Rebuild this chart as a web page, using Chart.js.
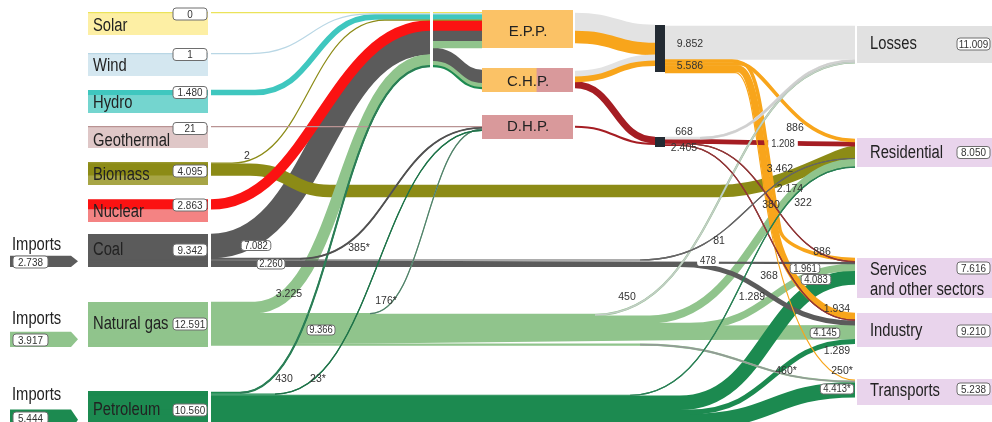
<!DOCTYPE html>
<html>
<head>
<meta charset="utf-8">
<script src="https://cdn.jsdelivr.net/npm/chart.js@4.4.1/dist/chart.umd.min.js"></script>
<style>
  html, body { margin: 0; padding: 0; background: #fff; }
</style>
</head>
<body>
<canvas id="flows" width="992" height="422"></canvas>
<script>
// energy values (thousands separator is "." in the labels)
var sources = ['Solar', 'Wind', 'Hydro', 'Geothermal', 'Biomass', 'Nuclear', 'Coal', 'Natural gas', 'Petroleum'];
var sourceValues = [0, 1, 1480, 21, 4095, 2863, 9342, 12591, 10560];
var importOf = ['Coal', 'Natural gas', 'Petroleum'];
var importValues = [2738, 3917, 5444];
var plants = ['E.P.P.', 'C.H.P.', 'D.H.P.'];
var hubs = ['Electricity', 'Heat'];
var hubValues = [5586, 2405];
var sinks = ['Losses', 'Residential', 'Services', 'Industry', 'Transports'];
var sinkSub = ['', '', 'and other sectors', '', ''];
var sinkValues = [11009, 8050, 7616, 9210, 5238];
var directOf = ['Coal', 'Natural gas'];
var directValues = [2260, 9366];

// flows: from, to, carrier, value, estimated (*)
var linkFrom = ['Solar', 'Wind', 'Hydro', 'Biomass', 'Nuclear', 'Coal', 'Natural gas', 'Petroleum',
  'PP', 'PP', 'PP', 'PP', 'PP', 'PP', 'PP', 'PP', 'PP', 'PP',
  'Geothermal', 'Coal', 'Natural gas', 'Petroleum',
  'E.P.P.', 'E.P.P.', 'C.H.P.', 'C.H.P.', 'C.H.P.', 'D.H.P.',
  'Electricity', 'Electricity', 'Electricity', 'Electricity', 'Electricity',
  'Heat', 'Heat', 'Heat', 'Heat',
  'Biomass', 'Coal', 'Coal', 'Coal',
  'Natural gas', 'Natural gas', 'Natural gas', 'Natural gas', 'Natural gas',
  'Petroleum', 'Petroleum', 'Petroleum', 'Petroleum'];
var linkTo = ['PP', 'PP', 'PP', 'PP', 'PP', 'PP', 'PP', 'PP',
  'E.P.P.', 'E.P.P.', 'E.P.P.', 'E.P.P.', 'E.P.P.', 'E.P.P.', 'E.P.P.', 'C.H.P.', 'C.H.P.', 'C.H.P.',
  'D.H.P.', 'D.H.P.', 'D.H.P.', 'D.H.P.',
  'Electricity', 'Electricity', 'Electricity', 'Electricity', 'Heat', 'Heat',
  'Losses', 'Residential', 'Services', 'Industry', 'Transports',
  'Losses', 'Residential', 'Services', 'Industry',
  'Residential', 'Residential', 'Services', 'Industry',
  'Losses', 'Residential', 'Services', 'Industry', 'Transports',
  'Residential', 'Services', 'Industry', 'Transports'];
var linkCarrier = ['solar', 'wind', 'hydro', 'bio', 'nuclear', 'coal', 'gas', 'oil',
  'solar', 'wind', 'hydro', 'bio', 'nuclear', 'coal', 'gas', 'coal', 'gas', 'oil',
  'geo', 'coal', 'gas', 'oil',
  'loss', 'elec', 'loss', 'elec', 'heat', 'heat',
  'loss', 'elec', 'elec', 'elec', 'elec',
  'loss', 'heat', 'heat', 'heat',
  'bio', 'coal', 'coal', 'coal',
  'gas', 'gas', 'gas', 'gas', 'gas',
  'oil', 'oil', 'oil', 'oil'];
var linkValues = [0, 1, 1480, 2, 2863, 7082, 3225, 430,
  0, 1, 1480, 2, 2863, 3200, 2000, 3882, 1225, 430,
  21, 385, 176, 23,
  5300, 3500, 1700, 1500, 1800, 450,
  9852, 886, 886, 1934, 250,
  668, 1208, 380, 368,
  3462, 81, 478, 1289,
  450, 2174, 1961, 4145, 460,
  322, 4083, 1289, 4413];
var linkEstimated = [0, 0, 0, 0, 0, 0, 0, 0,
  0, 0, 0, 0, 0, 0, 0, 0, 0, 0,
  0, 1, 1, 1,
  0, 0, 0, 0, 0, 0,
  0, 0, 0, 0, 1,
  0, 0, 0, 0,
  0, 0, 0, 0,
  0, 0, 0, 0, 1,
  0, 0, 0, 1];

// ---- look ----
var K = 3.4 / 1000;
var colors = { solar: '#ebe35a', wind: '#b9d7e5', hydro: '#3fc7bf', geo: '#b99393', bio: '#8c8b16',
  nuclear: '#fb1212', coal: '#5b5b5b', gas: '#90c48c', oil: '#1c8a50', loss: '#e3e3e3',
  elec: '#f8a51b', heat: '#a51d23' };
var thinColor = { 7: '#2f7a58', 19: '#505050', 20: '#4f7d6d', 21: '#1f6f48', 33: '#d0d0d0',
  38: '#666666', 41: '#c5ccc9', 45: '#939b97', 46: '#2b7d55', 35: '#8b3a3a', 36: '#8b3a3a' };

// box [x0, x1, y0, y1], stack starts, fill, value tag y, name baseline
var layout = {
  'Solar': { box: [88, 208, 12, 35], out: 12, fill: '#fdefa4', vb: 14, ty: 31 },
  'Wind': { box: [88, 208, 53, 76], out: 53, fill: '#d4e7f0', vb: 54.5, ty: 71 },
  'Hydro': { box: [88, 208, 90, 113], out: 90, fill: '#74d5cf', vb: 92.5, ty: 108 },
  'Geothermal': { box: [88, 208, 126, 148], out: 126, fill: '#dfc7c7', vb: 128.5, ty: 146 },
  'Biomass': { box: [88, 208, 162, 185], out: 162.5, fill: '#a7a545', vb: 171, ty: 180 },
  'Nuclear': { box: [88, 208, 199, 222], out: 199.5, fill: '#f48383', vb: 205, ty: 217 },
  'Coal': { box: [88, 208, 234, 267], out: 234, fill: '#5b5b5b', vb: 250, ty: 255 },
  'Natural gas': { box: [88, 208, 302, 347], out: 302, fill: '#90c48c', vb: 324, ty: 329 },
  'Petroleum': { box: [88, 208, 391, 430], out: 392, fill: '#1c8a50', vb: 410, ty: 415 },
  'PP': { box: [430, 433, 12, 70], inn: 12, out: 12 },
  'E.P.P.': { box: [482, 573, 10, 48], inn: 12, out: 13, fill: '#fbc266', ty: 36 },
  'C.H.P.': { box: [482, 573, 68, 92], inn: 70, out: 71, fill: '#fbc266', fill2: '#d9999b', ty: 86 },
  'D.H.P.': { box: [482, 573, 115, 139], inn: 126, out: 126, fill: '#d9999b', ty: 131 },
  'Electricity': { box: [655, 665, 25, 72], inn: 25, out: 26 },
  'Heat': { box: [655, 665, 137, 147], inn: 137, out: 137 },
  'Losses': { box: [857, 992, 26, 63], inn: 26, fill: '#e1e1e1', vb: 44, ty: 49 },
  'Residential': { box: [857, 992, 138, 167], inn: 139, fill: '#e9d4ec', vb: 152.5, ty: 158 },
  'Services': { box: [857, 992, 258, 298], inn: 258, fill: '#e9d4ec', vb: 268, ty: 275 },
  'Industry': { box: [857, 992, 313, 347], inn: 313, fill: '#e9d4ec', vb: 331, ty: 336 },
  'Transports': { box: [857, 992, 379, 405], inn: 379.5, fill: '#e9d4ec', vb: 389, ty: 396 }
};
var gapOut = { 'Solar': 3, 'Wind': 3, 'Hydro': 3, 'Geothermal': 3, 'Biomass': 3, 'Nuclear': 3,
  'Coal': 3, 'Natural gas': 3, 'Petroleum': 3, 'E.P.P.': 2, 'C.H.P.': 2, 'D.H.P.': 2 };
var gapIn = { 'Losses': 2, 'Residential': 2, 'Services': 2, 'Industry': 2, 'Transports': 2 };

// waypoints [x, y('s'|'t'|lane), a, b, tangentX, tangentY]
var trunk = [0.19, 0.98];
var routes = {
  1: { via: [[250, 's'], [370, 't']] },
  2: { via: [[255, 's'], [375, 't']] },
  3: { via: [[232, 's'], [385, 't']] },
  4: { c: [0.45, 0.45] },
  6: { via: [[255, 's']] },
  7: { via: [[240, 's']] },
  19: { via: [[300, 's']] },
  20: { via: [[370, 's']] },
  21: { via: [[275, 's']] },
  29: { via: [[732, 's']], c: [0.3, 0.55] },
  30: { via: [[742, 's'], [780, 230, 0.5, 0.5, trunk[0], trunk[1]]], c: [0.5, 0.5] },
  31: { via: [[738, 's'], [775, 230, 0.5, 0.5, trunk[0], trunk[1]]], c: [0.5, 0.5] },
  32: { via: [[735, 's'], [771, 230, 0.5, 0.5, trunk[0], trunk[1]]], c: [0.55, 0.45] },
  33: { via: [[700, 's']] },
  35: { via: [[690, 's']] },
  36: { via: [[680, 's']] },
  37: { via: [[250, 's'], [330, 191], [720, 191]], c: [0.45, 0.15] },
  38: { via: [[640, 's']] },
  40: { via: [[680, 's']] },
  41: { via: [[595, 's']] },
  42: { via: [[650, 's']], c: [0.5, 0.45] },
  43: { via: [[690, 's']] },
  45: { via: [[640, 's']] },
  46: { via: [[630, 's']] },
  47: { via: [[680, 's']] },
  48: { via: [[690, 's']] },
  49: { via: [[690, 's']] }
};

// label spots: [x, y, style]
var labelAt = {
  3: [247, 156, 'plain'], 5: [256, 245.5, 'box'], 6: [289, 294, 'plain'], 7: [284, 379, 'plain'],
  19: [359, 248, 'plain'], 20: [386, 301, 'plain'], 21: [318, 379, 'plain'],
  28: [690, 44, 'plain'], 29: [795, 128, 'plain'], 30: [822, 252, 'plain'], 31: [837, 309, 'plain'],
  32: [842, 371, 'plain'], 33: [684, 132, 'plain'], 34: [783, 143.5, 'bg'], 35: [771, 205, 'plain'],
  36: [769, 276.5, 'plain'], 37: [780, 169, 'plain'], 38: [719, 241, 'plain'], 39: [708, 261, 'bg'],
  40: [752, 297.5, 'plain'], 41: [627, 297.5, 'plain'], 42: [790, 189, 'plain'], 43: [805, 268.5, 'box'],
  44: [825, 333, 'box'], 45: [786, 371, 'plain'], 46: [803, 203.5, 'plain'], 47: [816, 279.5, 'box'],
  48: [837, 351, 'plain'], 49: [837, 389, 'box']
};
var directAt = [[271, 264], [321, 330]];
var hubAt = [[690, 66], [684, 148]];
var importAt = [[12, 250, 262], [12, 324, 340], [12, 400, 418]];

function fmt(v, star) {
  var s = v >= 1000 ? Math.floor(v / 1000) + '.' + String(v % 1000).padStart(3, '0') : String(v);
  return star ? s + '*' : s;
}

function say(ctx, s, x, y, size, sx, align, base, color) {
  ctx.save();
  ctx.font = size + 'px "Liberation Sans", Arial, sans-serif';
  ctx.fillStyle = color || '#222';
  ctx.textAlign = align || 'left';
  ctx.textBaseline = base || 'alphabetic';
  ctx.translate(x, y);
  ctx.scale(sx || 1, 1);
  ctx.fillText(s, 0, 0);
  ctx.restore();
}

function rounded(ctx, x, y, w, h, r) {
  ctx.beginPath();
  ctx.moveTo(x + r, y);
  ctx.lineTo(x + w - r, y);
  ctx.arcTo(x + w, y, x + w, y + r, r);
  ctx.lineTo(x + w, y + h - r);
  ctx.arcTo(x + w, y + h, x + w - r, y + h, r);
  ctx.lineTo(x + r, y + h);
  ctx.arcTo(x, y + h, x, y + h - r, r);
  ctx.lineTo(x, y + r);
  ctx.arcTo(x, y, x + r, y, r);
  ctx.closePath();
}

function tag(ctx, s, cx, cy, w, h, size, sx, border) {
  ctx.save();
  rounded(ctx, cx - w / 2, cy - h / 2, w, h, 3);
  ctx.fillStyle = '#ffffff';
  ctx.fill();
  if (border) { ctx.strokeStyle = '#6e6e6e'; ctx.lineWidth = 1; ctx.stroke(); }
  ctx.restore();
  say(ctx, s, cx, cy + 0.5, size, sx, 'center', 'middle', '#333');
}

var flowPlugin = {
  id: 'flows',
  afterDraw: function (chart) {
    var ctx = chart.ctx, xs = chart.scales.x, ys = chart.scales.y;
    var X = function (v) { return xs.getPixelForValue(v); };
    var Y = function (v) { return ys.getPixelForValue(v); };
    var unit = Math.abs(Y(1) - Y(0));

    // stack the flows on each node
    var curOut = {}, curIn = {}, geo = [];
    Object.keys(layout).forEach(function (n) { curOut[n] = layout[n].out; curIn[n] = layout[n].inn; });
    linkValues.forEach(function (v, i) {
      var w = Math.max(1.2, v * K);
      var f = linkFrom[i], t = linkTo[i];
      var sy = curOut[f] + w / 2; curOut[f] += w;
      var ty = curIn[t] + w / 2; curIn[t] += w;
      geo.push({ i: i, w: w, sy: sy, ty: ty,
        sx: layout[f].box[1] + (gapOut[f] || 0), tx: layout[t].box[0] - (gapIn[t] || 0) });
    });

    // node boxes
    ctx.save();
    Object.keys(layout).forEach(function (n) {
      var L = layout[n], b = L.box;
      if (!L.fill) return;
      ctx.fillStyle = L.fill;
      ctx.fillRect(X(b[0]), Y(b[2]), X(b[1]) - X(b[0]), Y(b[3]) - Y(b[2]));
      if (L.fill2) {
        var mid = b[0] + (b[1] - b[0]) * 0.6;
        ctx.fillStyle = L.fill2;
        ctx.fillRect(X(mid), Y(b[2]), X(b[1]) - X(mid), Y(b[3]) - Y(b[2]));
      }
    });
    // outgoing band colour across source boxes
    sources.forEach(function (n) {
      var b = layout[n].box;
      geo.forEach(function (g) {
        if (linkFrom[g.i] !== n) return;
        ctx.fillStyle = colors[linkCarrier[g.i]];
        ctx.fillRect(X(b[0]), Y(g.sy - g.w / 2), X(b[1]) - X(b[0]), g.w * unit);
      });
    });
    // import arrows
    importOf.forEach(function (n, k) {
      var b = layout[n].box, h = importValues[k] * K + 2;
      var y1 = b[3], y0 = y1 - h;
      ctx.fillStyle = colors[linkCarrier[linkFrom.indexOf(n)]];
      ctx.beginPath();
      ctx.moveTo(X(10), Y(y0));
      ctx.lineTo(X(71), Y(y0));
      ctx.lineTo(X(78), Y((y0 + y1) / 2));
      ctx.lineTo(X(71), Y(y1));
      ctx.lineTo(X(10), Y(y1));
      ctx.closePath();
      ctx.fill();
    });
    ctx.restore();

    // flows: thick first, thin on top
    function pathOf(g, fromS) {
      var r = routes[g.i] || {};
      var pts = [[g.sx, g.sy]];
      (r.via || []).forEach(function (p) {
        pts.push([p[0], p[1] === 's' ? g.sy : (p[1] === 't' ? g.ty : p[1]), p[2], p[3], p[4], p[5]]);
      });
      var c = r.c || [0.5, 0.5];
      pts.push([g.tx, g.ty, c[0], c[1]]);
      var first = 0;
      if (fromS) {
        for (var k = 1; k < pts.length - 1; k++) if ((r.via[k - 1] || [])[1] === 's') first = k;
      }
      ctx.beginPath();
      ctx.moveTo(X(pts[first][0]), Y(pts[first][1]));
      for (var j = first + 1; j < pts.length; j++) {
        var p = pts[j - 1], q = pts[j];
        var tp = p[4] != null ? [p[4], p[5]] : [1, 0];
        var tq = q[4] != null ? [q[4], q[5]] : [1, 0];
        if (Math.abs(p[1] - q[1]) < 0.01 && tp[1] === 0 && tq[1] === 0) { ctx.lineTo(X(q[0]), Y(q[1])); continue; }
        var a = q[2] == null ? 0.5 : q[2], bb = q[3] == null ? 0.5 : q[3];
        var dx = q[0] - p[0], dy = q[1] - p[1];
        var l1 = Math.abs(tp[0]) >= Math.abs(tp[1]) ? Math.abs(dx / tp[0]) : Math.abs(dy / tp[1]);
        var l2 = Math.abs(tq[0]) >= Math.abs(tq[1]) ? Math.abs(dx / tq[0]) : Math.abs(dy / tq[1]);
        ctx.bezierCurveTo(X(p[0] + tp[0] * a * l1), Y(p[1] + tp[1] * a * l1),
          X(q[0] - tq[0] * bb * l2), Y(q[1] - tq[1] * bb * l2), X(q[0]), Y(q[1]));
      }
    }
    var order = geo.slice().sort(function (a, b) { return b.w - a.w; });
    ctx.save();
    ctx.lineCap = 'butt';
    order.forEach(function (g) {
      pathOf(g, false);
      ctx.lineWidth = (g.w > 1.3 ? g.w + 0.6 : g.w) * unit;
      ctx.strokeStyle = colors[linkCarrier[g.i]];
      ctx.stroke();
    });
    order.forEach(function (g) {
      if (!thinColor[g.i]) return;
      pathOf(g, true);
      ctx.lineWidth = g.w * unit;
      ctx.strokeStyle = thinColor[g.i];
      ctx.stroke();
    });
    ctx.restore();

    // collectors
    ctx.fillStyle = '#232b33';
    hubs.forEach(function (n) {
      var b = layout[n].box;
      ctx.fillRect(X(b[0]), Y(b[2]), X(b[1]) - X(b[0]), Y(b[3]) - Y(b[2]));
    });

    // node names and totals
    sources.forEach(function (n, k) {
      var L = layout[n];
      say(ctx, n, X(93), Y(L.ty), 18, 0.82);
      tag(ctx, fmt(sourceValues[k]), X(190), Y(L.vb), 34, 12, 11, 0.9, true);
    });
    plants.forEach(function (n) {
      say(ctx, n, X(528), Y(layout[n].ty), 15, 1, 'center');
    });
    sinks.forEach(function (n, k) {
      var L = layout[n];
      say(ctx, n, X(870), Y(L.ty), 18, 0.82);
      if (sinkSub[k]) say(ctx, sinkSub[k], X(870), Y(L.ty + 20), 18, 0.82);
      tag(ctx, fmt(sinkValues[k]), X(973.5), Y(L.vb), 33, 12, 11, 0.9, true);
    });
    importOf.forEach(function (n, k) {
      var p = importAt[k];
      say(ctx, 'Imports', X(p[0]), Y(p[1]), 18, 0.82);
      tag(ctx, fmt(importValues[k]), X(30.5), Y(p[2]), 35, 12, 11, 0.9, true);
    });

    // flow values
    Object.keys(labelAt).forEach(function (key) {
      var i = +key, p = labelAt[key], s = fmt(linkValues[i], linkEstimated[i]);
      if (p[2] === 'plain') {
        say(ctx, s, X(p[0]), Y(p[1]), 10.5, 1, 'center', 'middle', '#333');
      } else {
        ctx.font = '10.5px "Liberation Sans", Arial, sans-serif';
        var w = ctx.measureText(s).width * 0.9 + 6;
        tag(ctx, s, X(p[0]), Y(p[1]), w, 10, 10.5, 0.9, p[2] === 'box');
      }
    });
    directOf.forEach(function (n, k) {
      var p = directAt[k];
      tag(ctx, fmt(directValues[k]), X(p[0]), Y(p[1]), 28, 10, 10.5, 0.9, true);
    });
    hubs.forEach(function (n, k) {
      var p = hubAt[k];
      say(ctx, fmt(hubValues[k]), X(p[0]), Y(p[1]), 10.5, 1, 'center', 'middle', '#333');
    });
  }
};

new Chart(document.getElementById('flows'), {
  type: 'scatter',
  data: { datasets: [{ data: [] }] },
  options: {
    responsive: false,
    animation: false,
    layout: { padding: 0 },
    scales: {
      x: { type: 'linear', min: 0, max: 992, display: false },
      y: { type: 'linear', min: 0, max: 422, reverse: true, display: false }
    },
    plugins: { legend: { display: false }, tooltip: { enabled: false } }
  },
  plugins: [flowPlugin]
});
</script>
</body>
</html>
